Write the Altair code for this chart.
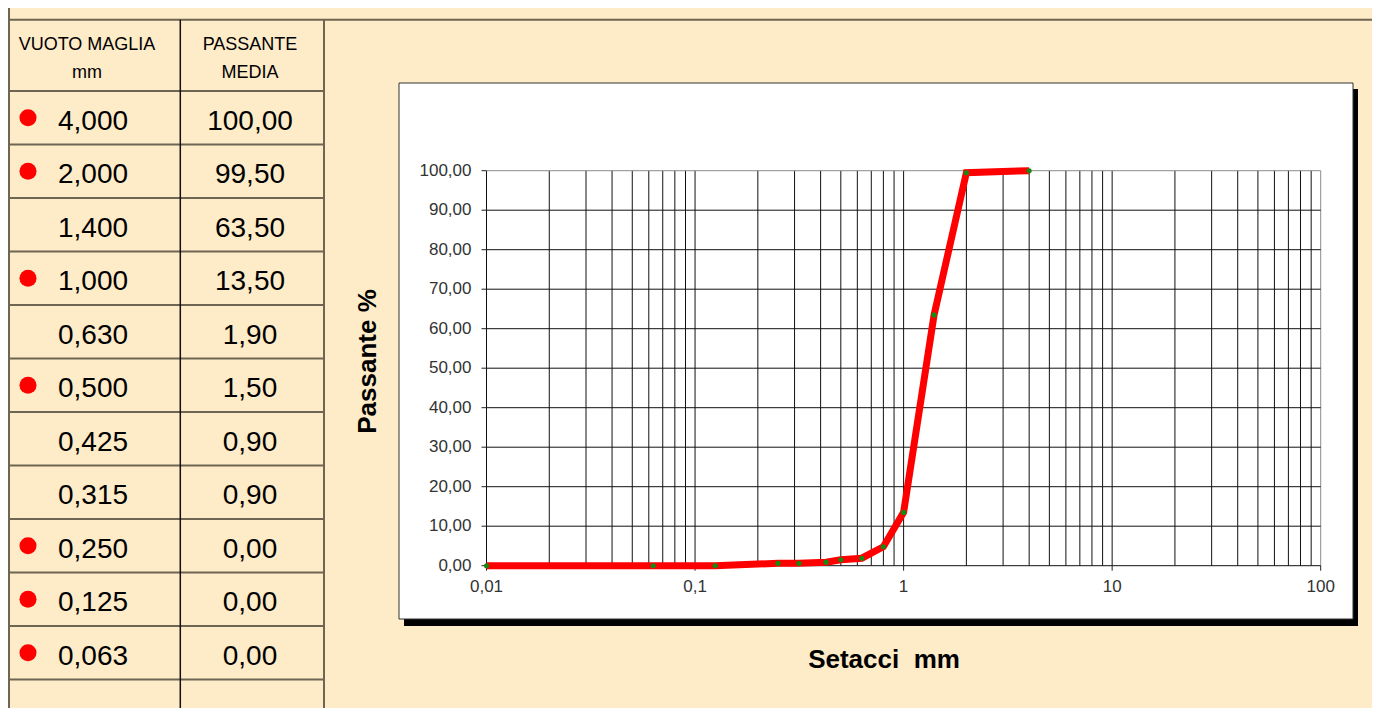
import altair as alt
import pandas as pd

# ---------------- data ----------------
# table (left)
mesh_mm = [4.000, 2.000, 1.400, 1.000, 0.630, 0.500, 0.425, 0.315, 0.250, 0.125, 0.063]
passing_pct = [100.00, 99.50, 63.50, 13.50, 1.90, 1.50, 0.90, 0.90, 0.00, 0.00, 0.00]
has_dot = [True, True, False, True, False, True, False, False, True, True, True]

# grading curve (right)
curve_mm = [0.01, 0.063, 0.125, 0.25, 0.315, 0.425, 0.5, 0.63, 0.8, 1.0, 1.4, 2.0, 4.0]
curve_pct = [0.0, 0.0, 0.0, 0.6, 0.6, 0.9, 1.5, 1.9, 4.8, 13.5, 63.5, 99.5, 100.0]

# axis ticks
y_ticks = [0, 10, 20, 30, 40, 50, 60, 70, 80, 90, 100]
x_major = [0.01, 0.1, 1, 10, 100]
x_grid = [round(m * 10.0 ** e, 4) for e in range(-2, 2) for m in range(1, 10)] + [100]

header_1 = "VUOTO MAGLIA\nmm"
header_2 = "PASSANTE\nMEDIA"
x_title = "Setacci\u00a0 mm"
y_title = "Passante %"

# ---------------- layout / style ----------------
W, H = 1364, 700
BG = "#FEEBC8"
EDGE = "#6e6652"
FONT = "Liberation Sans, Arial, sans-serif"
one = alt.Data(values=[{}])

xs = alt.Scale(type="log", domain=[0.01, 100], range=[478.5, 1312.7], nice=False)
ys = alt.Scale(domain=[0, 100], range=[557.7, 162.7], nice=False, zero=False)
ts = alt.Scale(domain=[0, 12], range=[83, 725], nice=False, zero=False)

# ---------------- graph ----------------
shadow = alt.Chart(one).mark_rect(color="black").encode(
    x=alt.value(396), x2=alt.value(1350), y=alt.value(81), y2=alt.value(618))
frame = alt.Chart(one).mark_rect(fill="white", stroke="#333", strokeWidth=1).encode(
    x=alt.value(391), x2=alt.value(1345), y=alt.value(75), y2=alt.value(611))

vgrid = alt.Chart(pd.DataFrame({"v": x_grid})).mark_rule(strokeWidth=1).encode(
    x=alt.X("v:Q", scale=xs, axis=None),
    y=alt.YDatum(0, type="quantitative", scale=ys, axis=None),
    y2=alt.Y2Datum(100),
    color=alt.condition("datum.v >= 100", alt.value("#8c8c8c"), alt.value("#111")),
)
hgrid = alt.Chart(pd.DataFrame({"h": y_ticks})).mark_rule(strokeWidth=1).encode(
    y=alt.Y("h:Q", scale=ys, axis=None),
    x=alt.XDatum(0.01, type="quantitative", scale=xs, axis=None),
    x2=alt.X2Datum(100),
    color=alt.condition("datum.h >= 100", alt.value("#8c8c8c"), alt.value("#111")),
)

# axis ticks and tick labels, placed through the scales
ytick_df = pd.DataFrame({"t": y_ticks})
ytick_marks = alt.Chart(ytick_df).mark_rule(color="#222", strokeWidth=1, xOffset=-5).encode(
    y=alt.Y("t:Q", scale=ys, axis=None),
    x=alt.XDatum(0.01, type="quantitative", scale=xs, axis=None),
    x2=alt.X2Datum(0.01),
)
ytick_labels = alt.Chart(ytick_df).transform_calculate(
    lab="replace(format(datum.t, '.2f'), '.', ',')"
).mark_text(font=FONT, fontSize=17, color="#333", align="right", baseline="middle", dx=-15).encode(
    y=alt.Y("t:Q", scale=ys, axis=None),
    x=alt.XDatum(0.01, type="quantitative", scale=xs, axis=None),
    text="lab:N",
)
xtick_df = pd.DataFrame({"t": x_major})
xtick_marks = alt.Chart(xtick_df).mark_rule(color="#222", strokeWidth=1, y2Offset=5).encode(
    x=alt.X("t:Q", scale=xs, axis=None),
    y=alt.YDatum(0, type="quantitative", scale=ys, axis=None),
    y2=alt.Y2Datum(0),
)
xtick_labels = alt.Chart(xtick_df).transform_calculate(
    lab="replace(format(datum.t, '~g'), '.', ',')"
).mark_text(font=FONT, fontSize=17, color="#333", align="center", baseline="top", dy=13).encode(
    x=alt.X("t:Q", scale=xs, axis=None),
    y=alt.YDatum(0, type="quantitative", scale=ys, axis=None),
    text="lab:N",
)

curve_df = pd.DataFrame({"mm": curve_mm, "pct": curve_pct})
curve_line = alt.Chart(curve_df).mark_line(color="#ff0000", strokeWidth=7).encode(
    x=alt.X("mm:Q", scale=xs, axis=None),
    y=alt.Y("pct:Q", scale=ys, axis=None),
    order="mm:Q",
)
curve_pts = alt.Chart(curve_df).mark_point(filled=True, color="#138a13", size=26, opacity=1).encode(
    x=alt.X("mm:Q", scale=xs, axis=None),
    y=alt.Y("pct:Q", scale=ys, axis=None),
)

xt = alt.Chart(one).mark_text(text=x_title, font=FONT, fontSize=26, fontWeight="bold",
                              align="center", baseline="alphabetic", color="black").encode(
    x=alt.value(876), y=alt.value(660))
yt = alt.Chart(one).mark_text(text=y_title, font=FONT, fontSize=26, fontWeight="bold",
                              align="center", baseline="middle", angle=270, color="black").encode(
    x=alt.value(359.5), y=alt.value(353.5))

graph = alt.layer(shadow, frame, vgrid, hgrid, ytick_marks, xtick_marks, ytick_labels, xtick_labels,
                  curve_line, curve_pts, xt, yt)

# ---------------- table ----------------
table_df = pd.DataFrame({"row": list(range(len(mesh_mm))), "mm": mesh_mm,
                         "pct": passing_pct, "dot": has_dot})
base = alt.Chart(table_df).transform_calculate(
    rc="datum.row + 0.5",
    mm_txt="replace(format(datum.mm, '.3f'), '.', ',')",
    pct_txt="replace(format(datum.pct, '.2f'), '.', ',')",
)

row_lines = alt.Chart(pd.DataFrame({"r": list(range(len(mesh_mm) + 1))})).mark_rule(
    color=EDGE, strokeWidth=2).encode(
    y=alt.Y("r:Q", scale=ts, axis=None), x=alt.value(0), x2=alt.value(316))

dots = base.transform_filter("datum.dot").mark_point(filled=True, color="#ff0000", size=290, opacity=1).encode(
    x=alt.value(20), y=alt.Y("rc:Q", scale=ts, axis=None))
col1 = base.mark_text(font=FONT, fontSize=28, align="left", baseline="alphabetic", dy=12, color="black").encode(
    x=alt.value(50), y=alt.Y("rc:Q", scale=ts, axis=None), text="mm_txt:N")
col2 = base.mark_text(font=FONT, fontSize=28, align="center", baseline="alphabetic", dy=12, color="black").encode(
    x=alt.value(242), y=alt.Y("rc:Q", scale=ts, axis=None), text="pct_txt:N")

h1 = alt.Chart(one).mark_text(text=header_1, lineBreak="\n", lineHeight=28, font=FONT, fontSize=18,
                              align="center", baseline="alphabetic", color="black").encode(
    x=alt.value(79), y=alt.value(41.5))
h2 = alt.Chart(one).mark_text(text=header_2, lineBreak="\n", lineHeight=28, font=FONT, fontSize=18,
                              align="center", baseline="alphabetic", color="black").encode(
    x=alt.value(242), y=alt.value(41.5))

top_line = alt.Chart(one).mark_rule(color=EDGE, strokeWidth=2).encode(
    x=alt.value(0), x2=alt.value(W), y=alt.value(11.7))
left_line = alt.Chart(one).mark_rule(color=EDGE, strokeWidth=2).encode(
    x=alt.value(1), y=alt.value(0), y2=alt.value(H))
mid_line = alt.Chart(one).mark_rule(color="#111", strokeWidth=1.5).encode(
    x=alt.value(172.3), y=alt.value(11.7), y2=alt.value(H))
right_line = alt.Chart(one).mark_rule(color=EDGE, strokeWidth=2).encode(
    x=alt.value(316), y=alt.value(11.7), y2=alt.value(H))

table = alt.layer(row_lines, top_line, left_line, mid_line, right_line, dots, col1, col2, h1, h2)

chart = alt.layer(graph, table).resolve_scale(y="independent").properties(
    width=W, height=H, padding=0, autosize=alt.AutoSizeParams(type="none"), background=BG
).configure_view(stroke=None)

chart.save("out.html", embed_options={"renderer": "svg", "actions": False})
